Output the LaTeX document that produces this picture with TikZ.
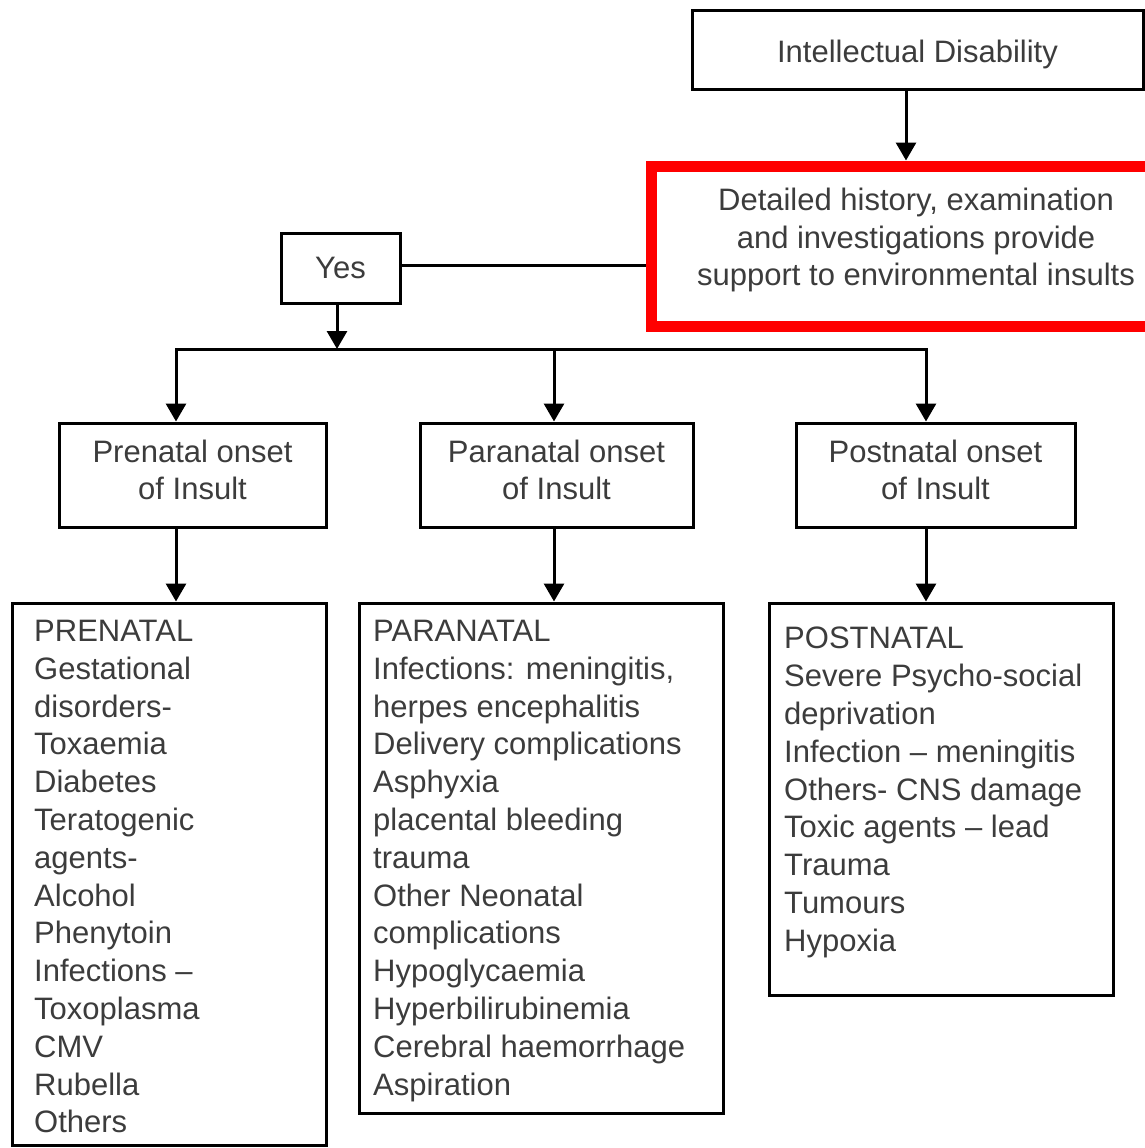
\documentclass[tikz,border=0pt]{standalone}
\usepackage{fontspec}
\setmainfont{Liberation Sans}
\usetikzlibrary{arrows.meta}
\definecolor{txt}{RGB}{60,60,60}
\definecolor{redbox}{RGB}{255,0,0}
\begin{document}
\begin{tikzpicture}[x=1pt,y=-1pt,
  box/.style={draw=black, line width=3pt, inner sep=0pt, text=txt,
    font=\fontsize{31}{37}\selectfont, align=center},
  listtxt/.style={inner sep=0pt, anchor=north west, align=left, text=txt,
    font=\fontsize{31}{37.8}\selectfont},
  conn/.style={line width=3pt, draw=black},
  arr/.style={conn, -{Triangle[width=20pt,length=18pt]}}]
\useasboundingbox (0,0) rectangle (1145,1148);

% boxes
\node[box, minimum width=451pt, minimum height=79pt] (id) at (917.5,50)
  {\raisebox{-4pt}[\height][\depth]{Intellectual Disability}};
\node[draw=redbox, line width=11pt, minimum width=530pt, minimum height=160pt, inner sep=0pt] (red) at (916,246) {};
\node[inner sep=0pt, align=center, text=txt, font=\fontsize{31}{37.5}\selectfont] (redtxt) at (916,240)
  {Detailed history, examination\\and investigations provide\\support to environmental insults};
\node[box, minimum width=119pt, minimum height=70pt] (yes) at (340.5,268) {Yes};

\node[box, minimum width=267pt, minimum height=104pt, text depth=10pt] (pre) at (192.5,475) {Prenatal onset\\of Insult};
\node[box, minimum width=273pt, minimum height=104pt, text depth=10pt] (para) at (556.5,475) {Paranatal onset\\of Insult};
\node[box, minimum width=279pt, minimum height=104pt, text depth=10pt] (post) at (935.5,475) {Postnatal onset\\of Insult};

\node[box, minimum width=314pt, minimum height=542pt] (prebot) at (169,874) {};
\node[box, minimum width=364pt, minimum height=510pt] (parabot) at (541,858) {};
\node[box, minimum width=344pt, minimum height=392pt] (postbot) at (941,799) {};

\node[listtxt] (pretxt) at (34,620) {PRENATAL\\Gestational\\disorders-\\Toxaemia\\Diabetes\\Teratogenic\\agents-\\Alcohol\\Phenytoin\\Infections –\\Toxoplasma\\CMV\\Rubella\\Others};
\node[listtxt] (paratxt) at (373,620) {PARANATAL\\Infections: meningitis,\\herpes encephalitis\\Delivery complications\\Asphyxia\\placental bleeding\\trauma\\Other Neonatal\\complications\\Hypoglycaemia\\Hyperbilirubinemia\\Cerebral haemorrhage\\Aspiration};
\node[listtxt] (posttxt) at (784,627) {POSTNATAL\\Severe Psycho-social\\deprivation\\Infection – meningitis\\Others- CNS damage\\Toxic agents – lead\\Trauma\\Tumours\\Hypoxia};

% connector coordinates
\coordinate (idx) at (906,0);
\coordinate (yl) at (400,265);
\coordinate (c0) at (337,349);
\coordinate (busL) at (176,349);
\coordinate (c2) at (554,349);
\coordinate (busR) at (926,349);

% connectors
\draw[arr] (idx |- id.south) -- (idx |- red.north);
\draw[conn] (yl -| yes.east) -- (yl -| red.west);
\draw[arr] (c0 |- yes.south) -- (c0);
\draw[conn, line cap=rect] (busL) -- (busR);
\draw[arr] (busL) -- (busL |- pre.north);
\draw[arr] (c2) -- (c2 |- para.north);
\draw[arr] (busR) -- (busR |- post.north);
\draw[arr] (busL |- pre.south) -- (busL |- prebot.north);
\draw[arr] (c2 |- para.south) -- (c2 |- parabot.north);
\draw[arr] (busR |- post.south) -- (busR |- postbot.north);
\end{tikzpicture}
\end{document}
